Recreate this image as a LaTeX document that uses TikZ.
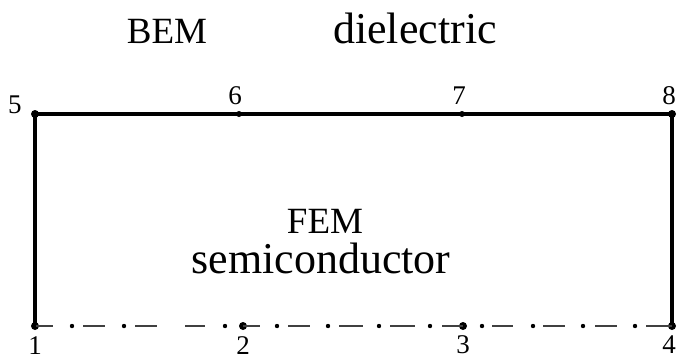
\documentclass[tikz,border=0pt]{standalone}
\usepackage{fontspec}
\setmainfont{Liberation Serif}
\begin{document}
\begin{tikzpicture}[x=1pt,y=-1pt,
  boxline/.style={line width=3.8pt,line cap=round,line join=round},
  thinline/.style={line width=1.3pt,draw=black!75},
  bignode/.style={circle,fill=black,inner sep=0pt,minimum size=8pt},
  smalldot/.style={circle,fill=black,inner sep=0pt,minimum size=4.5pt},
  numlab/.style={font=\fontsize{27}{29}\selectfont,inner sep=0pt},
  biglab/.style={font=\fontsize{44}{46}\selectfont,inner sep=0pt,anchor=base},
  medlab/.style={font=\fontsize{37}{40}\selectfont,inner sep=0pt,anchor=base}]
\useasboundingbox (0,0) rectangle (678,360);
% nodes
\node[bignode] (n1) at (35,326) {};
\node[bignode] (n2) at (243,326) {};
\node[bignode] (n3) at (463,326) {};
\node[bignode] (n4) at (672,326) {};
\node[bignode] (n5) at (35,114) {};
\node[smalldot,minimum size=6pt] (n6) at (239,114) {};
\node[smalldot,minimum size=6pt] (n7) at (462,114) {};
\node[bignode] (n8) at (672,114) {};
% box
\draw[boxline] (n1.center) -- (n5.center) -- (n8.center) -- (n4.center);
% dash-dot bottom
\foreach \a/\b in {36/53,83/105,135/157,185/205,243/260,288/310,339/363,390/415,442/463,492/513,543/565,595/617,646/672}
  \draw[thinline] (\a,326) -- (\b,326);
\foreach \d in {72,124,225,277,328,379,430,482,533,583,635}
  \fill (\d,326) circle (2.2pt);
% labels
\node[numlab,anchor=base] (l1) at (35,354) {1};
\node[numlab,anchor=base] (l2) at (243,354) {2};
\node[numlab,anchor=base] (l3) at (463,353) {3};
\node[numlab,anchor=base] (l4) at (669,353) {4};
\node[numlab,anchor=base] (l5) at (15,113) {5};
\node[numlab,anchor=base] (l6) at (235,104) {6};
\node[numlab,anchor=base] (l7) at (459,104) {7};
\node[numlab,anchor=base] (l8) at (669,104) {8};
\node[medlab] (bem) at (167,43) {BEM};
\node[biglab] (die) at (415,43) {dielectric};
\node[medlab] (fem) at (325,233) {FEM};
\node[biglab] (semi) at (321,273) {semiconductor};
\end{tikzpicture}
\end{document}
